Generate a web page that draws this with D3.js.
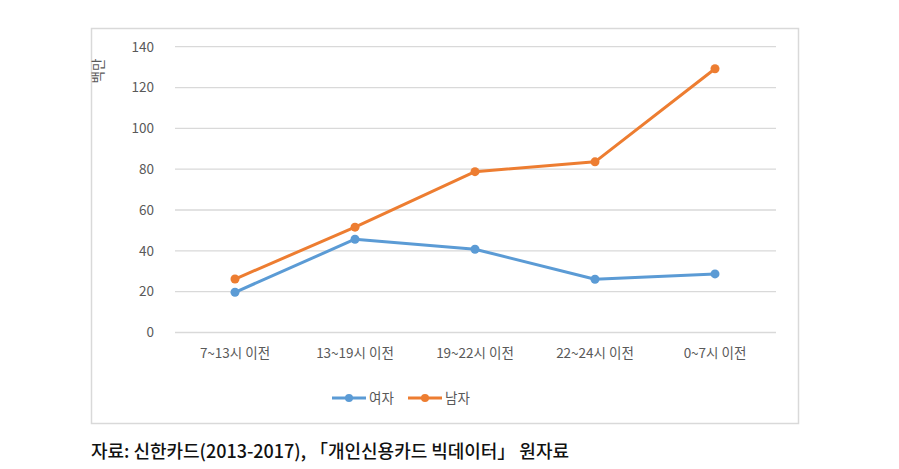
<!DOCTYPE html>
<html><head><meta charset="utf-8">
<script src="https://cdn.jsdelivr.net/npm/d3@7"></script>
<style>body{margin:0;background:#fff;} svg{display:block;}</style>
</head><body>
<svg id="c" width="899" height="469"></svg>
<script>
const categories = ["7~13시 이전","13~19시 이전","19~22시 이전","22~24시 이전","0~7시 이전"];
const female = [19.7, 45.7, 40.8, 26.1, 28.7];
const male = [26.2, 51.6, 78.8, 83.6, 129.2];
const seriesNames = ["여자","남자"];
const colors = ["#5B9BD5","#ED7D31"];
const yTicks = [0,20,40,60,80,100,120,140];
const yTitle = "백만";
const caption = "자료: 신한카드(2013-2017), 「개인신용카드 빅데이터」 원자료";

const svg = d3.select("#c");
const font = "'Noto Sans CJK KR', 'Noto Sans', sans-serif";

// frame
svg.append("rect").attr("x",91.5).attr("y",28.5).attr("width",707).attr("height",395)
  .attr("fill","#fff").attr("stroke","#d9d9d9").attr("stroke-width",1.5);

const x = d3.scaleBand().domain(categories).range([175,775]);
const y = d3.scaleLinear().domain([0,140]).range([332.5,46.7]);

// gridlines
svg.append("g").selectAll("line").data(yTicks).join("line")
  .attr("x1",175).attr("x2",776).attr("y1",d=>y(d)).attr("y2",d=>y(d))
  .attr("stroke","#d9d9d9").attr("stroke-width",1.3);

// y axis labels
const yAxis = d3.axisLeft(y).tickValues(yTicks).tickSize(0).tickPadding(0);
const gy = svg.append("g").attr("transform","translate(154,0)").call(yAxis);
gy.select(".domain").remove();
gy.selectAll("text").attr("font-family",font).attr("font-size",13.5).attr("fill","#595959");

// x axis labels
const xAxis = d3.axisBottom(x).tickSize(0).tickPadding(0);
const gx = svg.append("g").attr("transform","translate(0,348)").call(xAxis);
gx.select(".domain").remove();
gx.selectAll("text").attr("font-family",font).attr("font-size",13.5).attr("fill","#595959");

// y title
svg.append("text").attr("transform","translate(103,71) rotate(-90)")
  .attr("text-anchor","middle").attr("font-family",font).attr("font-size",13.5)
  .attr("fill","#595959").text(yTitle);

const data = [female, male];
const line = d3.line().x((d,i)=>x(categories[i])+x.bandwidth()/2).y(d=>y(d));
data.forEach((s,k)=>{
  svg.append("path").datum(s).attr("d",line).attr("fill","none")
    .attr("stroke",colors[k]).attr("stroke-width",3).attr("stroke-linejoin","round");
  svg.append("g").selectAll("circle").data(s).join("circle")
    .attr("cx",(d,i)=>x(categories[i])+x.bandwidth()/2).attr("cy",d=>y(d))
    .attr("r",4.5).attr("fill",colors[k]);
});

// legend
const legX = [332, 408];
seriesNames.forEach((n,k)=>{
  const g = svg.append("g").attr("transform",`translate(${legX[k]},398)`);
  g.append("line").attr("x1",0).attr("x2",34).attr("y1",0).attr("y2",0)
    .attr("stroke",colors[k]).attr("stroke-width",3);
  g.append("circle").attr("cx",17).attr("cy",0).attr("r",4).attr("fill",colors[k]);
  g.append("text").attr("x",37).attr("y",0).attr("dy","0.35em")
    .attr("font-family",font).attr("font-size",13.5).attr("fill","#595959").text(n);
});

// caption
svg.append("text").attr("x",91).attr("y",458).attr("font-family",font)
  .attr("font-size",18).attr("font-weight",500).attr("fill","#111")
  .attr("textLength",478).attr("lengthAdjust","spacing").text(caption);
</script>
</body></html>
